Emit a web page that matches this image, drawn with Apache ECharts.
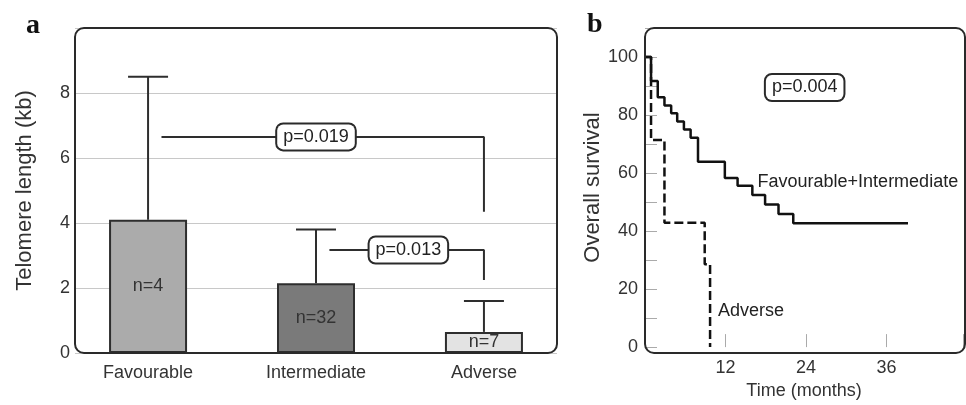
<!DOCTYPE html>
<html>
<head>
<meta charset="utf-8">
<script src="https://cdn.jsdelivr.net/npm/echarts@6/dist/echarts.min.js"></script>
<style>
html, body { margin: 0; padding: 0; background: #fff; }
#chart { width: 966px; height: 405px; }
</style>
</head>
<body>
<div id="chart"></div>
<script>
// panel a: telomere length by risk group
const groups = ['Favourable', 'Intermediate', 'Adverse']
const groupPos = [1, 2, 3]
const meanLength = [4.1, 2.15, 0.65]
const upperError = [8.5, 3.8, 1.6]
const groupN = ['n=4', 'n=32', 'n=7']
const barColors = ['#ababab', '#7a7a7a', '#e3e3e3']
const bracket1 = [[1.08, 6.65], [3, 6.65], [3, 4.35]]
const bracket2 = [[2.08, 3.17], [3, 3.17], [3, 2.25]]
const pLabelsA = [[2, 6.65, 'p=0.019'], [2.55, 3.17, 'p=0.013']]

// panel b: survival curves
const favTime = [0, 0.9, 1.9, 2.9, 3.9, 4.8, 5.8, 6.8, 7.9, 11.9, 13.8, 16, 17.9, 19.9, 22.1, 39.2]
const favSurv = [100, 91.7, 86.1, 83.3, 80.6, 77.8, 75, 72.2, 63.9, 58.3, 55.6, 52.4, 49.2, 45.9, 42.7, 42.7]
const advTime = [0, 0.9, 2.9, 8.9, 9.7]
const advSurv = [100, 71.4, 42.9, 28.6, 0]
const curveLabels = [[16.7, 57, 'Favourable+Intermediate'], [10.8, 12.4, 'Adverse']]
const pLabelB = [[23.8, 89.5, 'p=0.004']]

const FONT = '"Liberation Sans", Arial, sans-serif'
const TXT = '#333'

const chart = echarts.init(document.getElementById('chart'))

// invisible anchor for text-only points
const hidden = { color: 'rgba(0,0,0,0)', opacity: 1 }

const boxLabel = {
  show: true,
  position: 'inside',
  formatter: p => p.value[2],
  color: '#222',
  fontFamily: FONT,
  fontSize: 18,
  backgroundColor: '#fff',
  borderColor: '#2a2a2a',
  borderWidth: 2,
  borderRadius: 6,
  padding: [4, 6, 3, 6]
}

const option = {
  animation: false,
  textStyle: { fontFamily: FONT },
  grid: [
    { left: 75, top: 28, width: 482, height: 325 },
    { left: 645, top: 28, width: 320, height: 325 }
  ],
  xAxis: [
    {
      gridIndex: 0,
      type: 'value',
      min: 0.565,
      max: 3.435,
      axisLine: { show: false },
      axisTick: { show: false },
      splitLine: { show: false },
      axisLabel: {
        customValues: groupPos,
        formatter: v => groups[groupPos.indexOf(v)],
        margin: 11,
        fontSize: 18,
        color: TXT
      }
    },
    {
      gridIndex: 1,
      type: 'value',
      min: 0,
      max: 47.4,
      interval: 12,
      name: 'Time (months)',
      nameLocation: 'middle',
      nameGap: 31,
      nameTextStyle: { fontSize: 18, color: TXT },
      axisLine: { show: false },
      axisTick: { show: true, inside: true, length: 13, lineStyle: { color: '#aaa', width: 1 } },
      splitLine: { show: false },
      axisLabel: {
        formatter: v => (v > 0 && v % 12 === 0 ? v : ''),
        margin: 12,
        fontSize: 18,
        color: TXT
      }
    }
  ],
  yAxis: [
    {
      gridIndex: 0,
      type: 'value',
      min: 0,
      max: 10,
      interval: 2,
      name: 'Telomere length (kb)',
      nameLocation: 'middle',
      nameGap: 39,
      nameTextStyle: { fontSize: 22, color: TXT },
      axisLine: { show: false },
      axisTick: { show: false },
      splitLine: { show: true, lineStyle: { color: '#c8c8c8', width: 1 } },
      axisLabel: {
        formatter: v => (v <= 8 ? v : ''),
        margin: 5,
        fontSize: 18,
        color: TXT
      }
    },
    {
      gridIndex: 1,
      type: 'value',
      min: 0,
      max: 110,
      interval: 10,
      name: 'Overall survival',
      nameLocation: 'middle',
      nameGap: 41,
      nameTextStyle: { fontSize: 22, color: TXT },
      axisLine: { show: false },
      axisTick: { show: true, inside: true, length: 12, lineStyle: { color: '#aaa', width: 1 } },
      splitLine: { show: false },
      axisLabel: {
        formatter: v => (v % 20 === 0 && v <= 100 ? v : ''),
        margin: 7,
        padding: [0, 0, 12, 0],
        fontSize: 18,
        color: TXT
      }
    }
  ],
  graphic: [
    { type: 'rect', z: 100, shape: { x: 75, y: 28, width: 482, height: 325, r: 9 }, style: { fill: 'none', stroke: '#2a2a2a', lineWidth: 2 } },
    { type: 'rect', z: 100, shape: { x: 645, y: 28, width: 320, height: 325, r: 9 }, style: { fill: 'none', stroke: '#2a2a2a', lineWidth: 2 } },
    { type: 'text', left: 26, top: 12, style: { text: 'a', font: 'bold 28px "Liberation Serif", serif', fill: '#111' } },
    { type: 'text', left: 587, top: 11, style: { text: 'b', font: 'bold 28px "Liberation Serif", serif', fill: '#111' } }
  ],
  series: [
    {
      type: 'bar',
      xAxisIndex: 0,
      yAxisIndex: 0,
      barWidth: 78,
      data: groupPos.map((x, i) => ({
        value: [x, meanLength[i]],
        itemStyle: { color: barColors[i], borderColor: '#2e2e2e', borderWidth: 2 }
      })),
      label: {
        show: true,
        position: 'inside',
        formatter: p => groupN[p.dataIndex],
        fontSize: 18,
        color: '#333'
      }
    },
    {
      type: 'custom',
      xAxisIndex: 0,
      yAxisIndex: 0,
      z: 3,
      data: groupPos.map((x, i) => [x, meanLength[i], upperError[i]]),
      renderItem(params, api) {
        const top = api.coord([api.value(0), api.value(2)])
        const base = api.coord([api.value(0), api.value(1)])
        const st = { stroke: '#2e2e2e', lineWidth: 2 }
        return {
          type: 'group',
          children: [
            { type: 'line', shape: { x1: top[0], y1: top[1], x2: base[0], y2: base[1] }, style: st },
            { type: 'line', shape: { x1: top[0] - 20, y1: top[1], x2: top[0] + 20, y2: top[1] }, style: st }
          ]
        }
      }
    },
    {
      type: 'line',
      xAxisIndex: 0,
      yAxisIndex: 0,
      data: bracket1,
      showSymbol: false,
      lineStyle: { color: '#2e2e2e', width: 2 },
      z: 3
    },
    {
      type: 'line',
      xAxisIndex: 0,
      yAxisIndex: 0,
      data: bracket2,
      showSymbol: false,
      lineStyle: { color: '#2e2e2e', width: 2 },
      z: 3
    },
    {
      type: 'scatter',
      xAxisIndex: 0,
      yAxisIndex: 0,
      symbolSize: 1,
      itemStyle: hidden,
      data: pLabelsA,
      label: boxLabel,
      z: 5
    },
    {
      type: 'line',
      xAxisIndex: 1,
      yAxisIndex: 1,
      step: 'end',
      data: favTime.map((t, i) => [t, favSurv[i]]),
      showSymbol: false,
      lineStyle: { color: '#111', width: 2.5 }
    },
    {
      type: 'line',
      xAxisIndex: 1,
      yAxisIndex: 1,
      step: 'end',
      data: advTime.map((t, i) => [t, advSurv[i]]),
      showSymbol: false,
      lineStyle: { color: '#111', width: 2.5, type: [9, 4] }
    },
    {
      type: 'scatter',
      xAxisIndex: 1,
      yAxisIndex: 1,
      symbolSize: 1,
      itemStyle: hidden,
      data: curveLabels,
      label: {
        show: true,
        position: 'right',
        distance: 0,
        formatter: p => p.value[2],
        fontSize: 18,
        color: '#222'
      }
    },
    {
      type: 'scatter',
      xAxisIndex: 1,
      yAxisIndex: 1,
      symbolSize: 1,
      itemStyle: hidden,
      data: pLabelB,
      label: boxLabel,
      z: 5
    }
  ]
}

chart.setOption(option)
</script>
</body>
</html>
